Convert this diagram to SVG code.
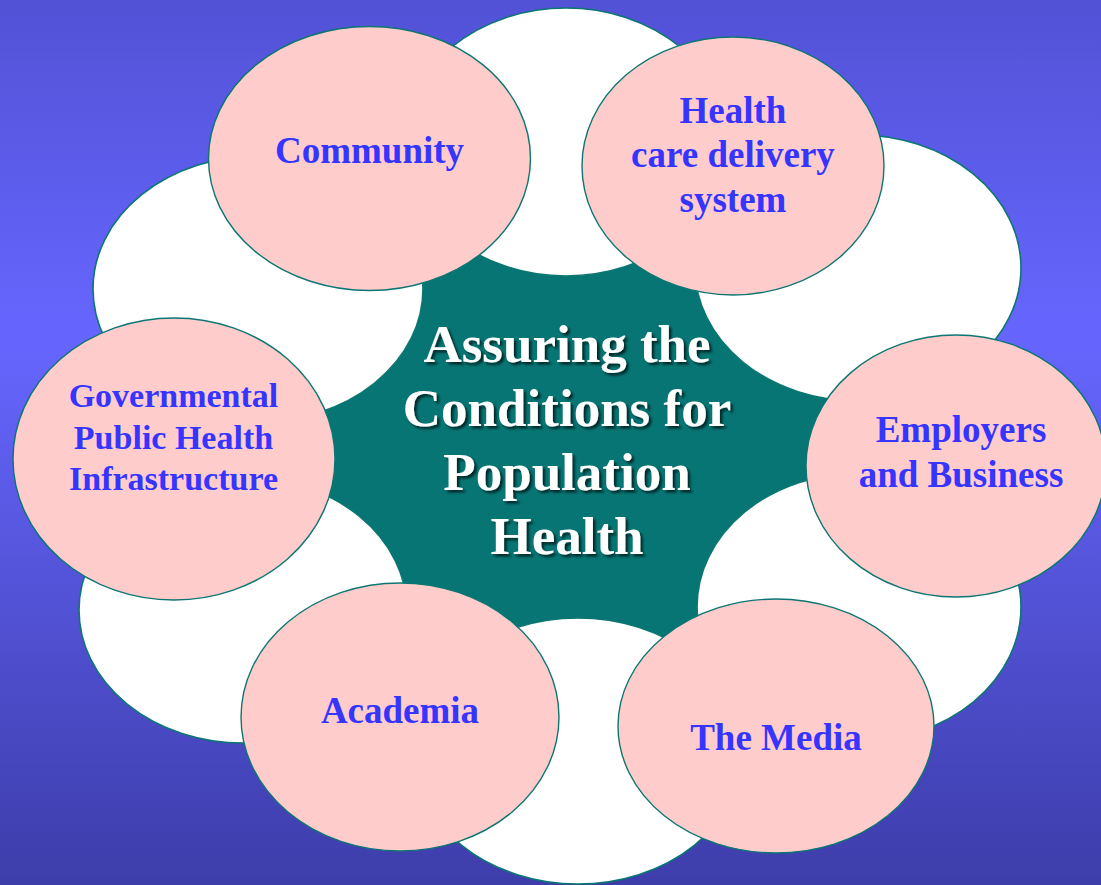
<svg xmlns="http://www.w3.org/2000/svg" width="1101" height="885" viewBox="0 0 1101 885">
<defs>
<linearGradient id="bg" x1="0" y1="0" x2="0" y2="1">
<stop offset="0" stop-color="#5252d6"/>
<stop offset="0.38" stop-color="#6666ff"/>
<stop offset="1" stop-color="#3d3daa"/>
</linearGradient>
<filter id="shadow" x="-10%" y="-20%" width="120%" height="140%">
<feDropShadow dx="2.5" dy="2.5" stdDeviation="1" flood-color="#000" flood-opacity="0.65"/>
</filter>
<style>
.petal{fill:#ffffff;stroke:#0b7672;stroke-width:1.6}
.node{fill:#ffcccc;stroke:#0b7672;stroke-width:1.4}
.lbl{font-family:"Liberation Serif","Times New Roman",serif;font-weight:bold;font-size:37px;fill:#3535ff;text-anchor:middle}
.title{font-family:"Liberation Serif","Times New Roman",serif;font-weight:bold;font-size:53px;fill:#ffffff;text-anchor:middle}
</style>
</defs>
<rect x="0" y="0" width="1101" height="885" fill="url(#bg)"/>
<g id="center-shape">
<ellipse cx="567" cy="445" rx="290" ry="215" fill="#067573"/>
</g>
<g id="petals">
<ellipse class="petal" cx="566" cy="142" rx="162" ry="134"/>
<ellipse class="petal" cx="858" cy="268" rx="163" ry="133"/>
<ellipse class="petal" cx="859" cy="607" rx="162" ry="134"/>
<ellipse class="petal" cx="578" cy="751" rx="165" ry="133"/>
<ellipse class="petal" cx="243" cy="610" rx="164" ry="133"/>
<ellipse class="petal" cx="258" cy="289" rx="165" ry="133"/>
</g>
<g id="node-community">
<ellipse class="node" cx="369.5" cy="158.5" rx="161" ry="132"/>
<text class="lbl" x="369.5" y="163">Community</text>
</g>
<g id="node-health-care">
<ellipse class="node" cx="733" cy="166" rx="151" ry="129"/>
<text class="lbl" x="733" y="123">Health</text>
<text class="lbl" x="733" y="167">care delivery</text>
<text class="lbl" x="733" y="212">system</text>
</g>
<g id="node-employers">
<ellipse class="node" cx="956" cy="466" rx="150" ry="131"/>
<text class="lbl" x="961" y="442">Employers</text>
<text class="lbl" x="961" y="487">and Business</text>
</g>
<g id="node-media">
<ellipse class="node" cx="776" cy="726" rx="158" ry="127"/>
<text class="lbl" x="776" y="750">The Media</text>
</g>
<g id="node-academia">
<ellipse class="node" cx="400" cy="717" rx="159" ry="134"/>
<text class="lbl" x="400" y="723">Academia</text>
</g>
<g id="node-governmental">
<ellipse class="node" cx="174" cy="459" rx="161" ry="141"/>
<text class="lbl" x="173.5" y="407" style="font-size:34px">Governmental</text>
<text class="lbl" x="173.5" y="448.5" style="font-size:34px">Public Health</text>
<text class="lbl" x="173.5" y="490" style="font-size:34px">Infrastructure</text>
</g>
<g id="node-center" filter="url(#shadow)">
<text class="title" x="567" y="362">Assuring the</text>
<text class="title" x="567" y="426">Conditions for</text>
<text class="title" x="567" y="490">Population</text>
<text class="title" x="567" y="554">Health</text>
</g>
</svg>
